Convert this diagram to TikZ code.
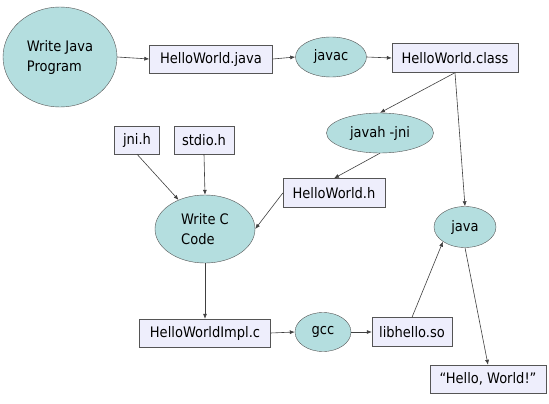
\documentclass[tikz,border=0pt]{standalone}
\usepackage{fontspec}
\setmainfont{DejaVu Sans Condensed}
\usetikzlibrary{shapes.geometric,arrows.meta}
\definecolor{ellfill}{HTML}{B4DEDF}
\definecolor{boxfill}{HTML}{EEEEFC}
\definecolor{edgecol}{HTML}{555555}
\definecolor{linecol}{HTML}{404040}
\begin{document}
\begin{tikzpicture}[x=1pt,y=-1pt,
  every node/.style={font=\fontsize{14.5}{20}\selectfont, text=black},
  proc/.style={ellipse, draw=edgecol, fill=ellfill, inner sep=0pt, align=left},
  file/.style={rectangle, draw=edgecol, fill=boxfill, inner sep=0pt},
  conn/.style={draw=linecol, line width=0.6pt, -{Latex[length=5pt,width=4pt]}}]
\useasboundingbox[fill=white] (0,0) rectangle (549,404);
\node[proc, minimum width=114, minimum height=100] (writej) at (60,57) {Write Java\\Program};
\node[file, minimum width=123, minimum height=28] (hj) at (211,59) {HelloWorld.java};
\node[proc, minimum width=71, minimum height=40] (javac) at (331,57) {javac};
\node[file, minimum width=126, minimum height=29] (cls) at (455,58) {HelloWorld.class};
\node[proc, minimum width=107, minimum height=40] (javah) at (380,133) {javah -jni};
\node[file, minimum width=102, minimum height=29] (hh) at (334,193) {HelloWorld.h};
\node[proc, minimum width=62, minimum height=41] (java) at (465,227) {java};
\node[file, minimum width=45, minimum height=28] (jni) at (137,140) {jni.h};
\node[file, minimum width=60, minimum height=28] (stdio) at (204,140) {stdio.h};
\node[proc, minimum width=100, minimum height=68] (writec) at (205,229) {Write C\\Code};
\node[file, minimum width=131, minimum height=28] (impl) at (205,333) {HelloWorldImpl.c};
\node[proc, minimum width=56, minimum height=39] (gcc) at (323,332) {gcc};
\node[file, minimum width=80, minimum height=29] (lib) at (412,332) {libhello.so};
\node[file, minimum width=116, minimum height=28] (hello) at (488,379) {“Hello, World!”};
\draw[conn] (writej.east) -- (hj.west);
\draw[conn] (hj.east) -- (javac.west);
\draw[conn] (javac.east) -- (cls.west);
\draw[conn] (cls.south) -- (javah.north);
\draw[conn] (cls.south) -- (java.north);
\draw[conn] (javah.south) -- (hh.north);
\draw[conn] (jni.south) -- (writec);
\draw[conn] (stdio.south) -- (writec.north);
\draw[conn] (hh.west) -- (writec.east);
\draw[conn] (writec.south) -- (impl.north);
\draw[conn] (impl.east) -- (gcc.west);
\draw[conn] (gcc.east) -- (lib.west);
\draw[conn] (lib.north) -- (java.south west);
\draw[conn] (java.south) -- (hello.north);
\end{tikzpicture}
\end{document}
